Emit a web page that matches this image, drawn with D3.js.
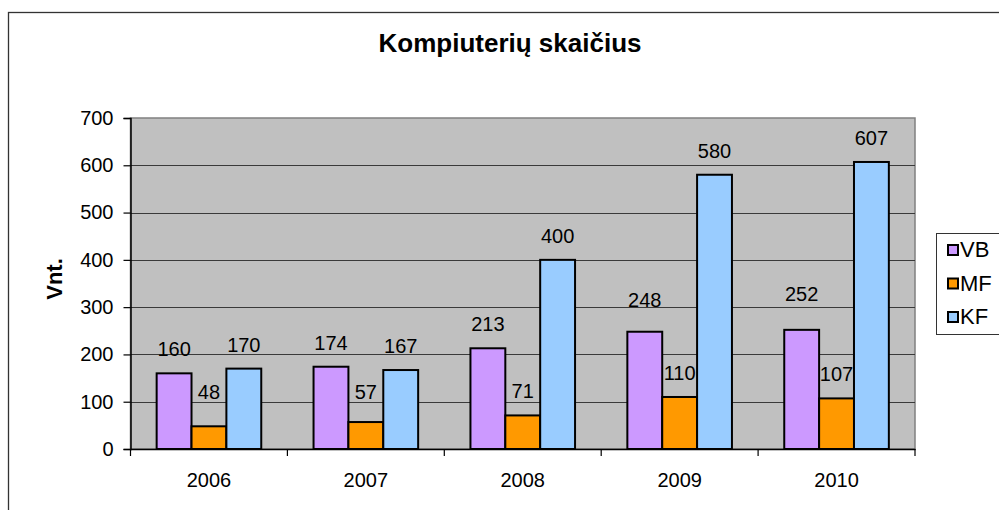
<!DOCTYPE html>
<html>
<head>
<meta charset="utf-8">
<script src="https://cdn.jsdelivr.net/npm/d3@7"></script>
<style>
  html, body { margin: 0; padding: 0; background: #ffffff; }
  svg { display: block; font-family: "Liberation Sans", Arial, sans-serif; }
</style>
</head>
<body>
<svg id="chart" width="999" height="510"></svg>
<script>
// ---- Data ----
const years = ["2006", "2007", "2008", "2009", "2010"];
const seriesNames = ["VB", "MF", "KF"];
const vbValues = [160, 174, 213, 248, 252];
const mfValues = [48, 57, 71, 110, 107];
const kfValues = [170, 167, 400, 580, 607];
const yTicks = [0, 100, 200, 300, 400, 500, 600, 700];
const titleText = "Kompiuterių skaičius";
const yAxisTitle = "Vnt.";

// ---- Style ----
const colors = { VB: "#CC99FF", MF: "#FF9900", KF: "#99CCFF" };
// extra lift (px) of a few data labels, as in the original
const labelExtraLift = { VB: [0, 0, 0, 8, 12], MF: [10, 6, 0, 0, 0], KF: [0, 0, 0, 0, 0] };

const seriesValues = { VB: vbValues, MF: mfValues, KF: kfValues };

const svg = d3.select("#chart");
const plot = { left: 130.5, right: 915, top: 118, bottom: 449 };

// outer chart frame
svg.append("rect")
  .attr("x", 8.5).attr("y", 12.5).attr("width", 1010).attr("height", 520)
  .attr("fill", "#ffffff").attr("stroke", "#333333").attr("stroke-width", 1.3);

const x0 = d3.scaleBand().domain(years).range([plot.left, plot.right]).paddingInner(0).paddingOuter(0);
const x1 = d3.scaleBand().domain(seriesNames).range([0, x0.bandwidth()]).paddingInner(0).paddingOuter(0.75);
const y = d3.scaleLinear().domain([0, 700]).range([plot.bottom, plot.top]);

// plot background
svg.append("rect")
  .attr("x", plot.left).attr("y", plot.top)
  .attr("width", plot.right - plot.left).attr("height", plot.bottom - plot.top)
  .attr("fill", "#C0C0C0").attr("stroke", "#808080").attr("stroke-width", 1.5);

// gridlines
svg.append("g").selectAll("line").data(yTicks.filter(t => t > 0 && t < 700)).join("line")
  .attr("x1", plot.left).attr("x2", plot.right)
  .attr("y1", d => Math.round(y(d)) + 0.5).attr("y2", d => Math.round(y(d)) + 0.5)
  .attr("stroke", "#3a3a3a").attr("stroke-width", 1);

// bars
const groups = svg.append("g").selectAll("g").data(years).join("g")
  .attr("transform", d => `translate(${x0(d)},0)`);

groups.selectAll("rect").data((yr, i) => seriesNames.map(s => ({ s, v: seriesValues[s][i], i })))
  .join("rect")
  .attr("x", d => x1(d.s)).attr("width", x1.bandwidth())
  .attr("y", d => y(d.v)).attr("height", d => y(0) - y(d.v))
  .attr("fill", d => colors[d.s]).attr("stroke", "#000000").attr("stroke-width", 2);

// data labels
groups.selectAll("text").data((yr, i) => seriesNames.map(s => ({ s, v: seriesValues[s][i], i })))
  .join("text")
  .attr("x", d => x1(d.s) + x1.bandwidth() / 2)
  .attr("y", d => y(d.v) - 17 - labelExtraLift[d.s][d.i])
  .attr("text-anchor", "middle")
  .attr("font-size", 20).attr("fill", "#000000")
  .text(d => d.v);

// y axis
const yAxis = d3.axisLeft(y).tickValues(yTicks).tickSize(7).tickPadding(10).tickFormat(d3.format("d"));
const yG = svg.append("g").attr("transform", `translate(${plot.left},0)`).call(yAxis);
yG.select(".domain").attr("stroke", "#000").attr("stroke-width", 1.5);
yG.selectAll(".tick line").attr("stroke", "#000").attr("stroke-width", 1.2);
yG.selectAll(".tick text").attr("font-size", 20).attr("fill", "#000")
  .attr("font-family", "Liberation Sans, Arial, sans-serif");

// x axis
const xAxis = d3.axisBottom(x0).tickSize(0).tickPadding(0);
const xG = svg.append("g").attr("transform", `translate(0,${plot.bottom})`).call(xAxis);
xG.select(".domain").attr("stroke", "#000").attr("stroke-width", 1.5);
xG.selectAll(".tick text").attr("font-size", 20).attr("fill", "#000").attr("dy", 0).attr("y", 38)
  .attr("font-family", "Liberation Sans, Arial, sans-serif");
// category boundary ticks
svg.append("g").selectAll("line").data(years.concat(["end"])).join("line")
  .attr("x1", d => d === "end" ? plot.right : x0(d))
  .attr("x2", d => d === "end" ? plot.right : x0(d))
  .attr("y1", plot.bottom).attr("y2", plot.bottom + 7)
  .attr("stroke", "#000").attr("stroke-width", 1.2);

// title
svg.append("text")
  .attr("x", 510).attr("y", 52).attr("text-anchor", "middle")
  .attr("font-size", 26).attr("font-weight", "bold").attr("fill", "#000")
  .text(titleText);

// y axis title
svg.append("text")
  .attr("transform", "translate(62,279) rotate(-90)")
  .attr("text-anchor", "middle")
  .attr("font-size", 22).attr("font-weight", "bold").attr("fill", "#000")
  .text(yAxisTitle);

// legend
const legend = svg.append("g");
legend.append("rect")
  .attr("x", 936.5).attr("y", 233.5).attr("width", 80).attr("height", 101)
  .attr("fill", "#ffffff").attr("stroke", "#333333").attr("stroke-width", 1);
const items = legend.selectAll("g.item").data(seriesNames).join("g").attr("class", "item")
  .attr("transform", (d, i) => `translate(0,${i * 33.5})`);
items.append("rect")
  .attr("x", 948).attr("y", 245).attr("width", 10).attr("height", 10)
  .attr("fill", d => colors[d]).attr("stroke", "#000").attr("stroke-width", 2);
items.append("text")
  .attr("x", 960).attr("y", 257)
  .attr("font-size", 22).attr("fill", "#000")
  .text(d => d);
</script>
</body>
</html>
